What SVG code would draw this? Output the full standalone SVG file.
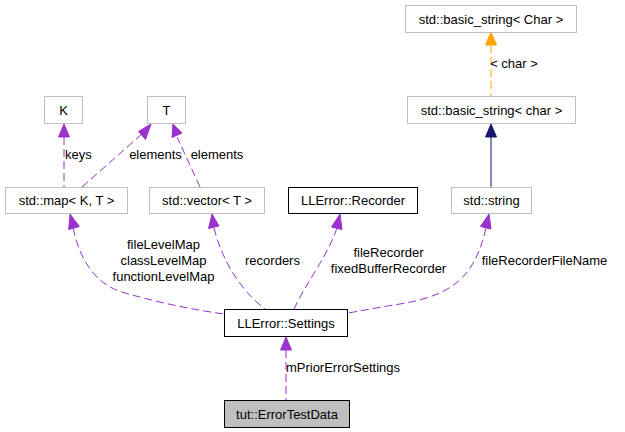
<svg xmlns="http://www.w3.org/2000/svg" width="625" height="432" viewBox="0 0 625 432">
<style>
text{font-family:"Liberation Sans",Arial,sans-serif;font-size:13px;fill:#000}
.n text{text-anchor:middle}
.g rect{fill:#fff;stroke:#bfbfbf;stroke-width:1}
.b rect{fill:#fff;stroke:#000;stroke-width:1}
.e path,.e line{fill:none;stroke:#9a32cd;stroke-dasharray:8,4}
.ph{fill:#9a32cd;stroke:#9a32cd}
.lbl{text-anchor:middle}
</style>
<rect width="625" height="432" fill="#fff"/>
<g id="edges">
<g class="e">
<line x1="286" y1="350" x2="286" y2="400"/>
<path d="M73,228 C80,260 95,285 125,293 C160,303 195,310 224,314"/>
<path d="M214,228 C222,260 240,290 265,309"/>
<path d="M337,228 C328,255 305,285 294,309"/>
<path d="M486,228 C475,275 455,295 400,304 C375,308 360,311 348,313"/>
<line x1="64" y1="137" x2="64" y2="187"/>
<line x1="82" y1="187" x2="142" y2="134"/>
<line x1="200" y1="187" x2="177" y2="137"/>
</g>
<polygon class="ph" points="286,337 280.5,350 291.5,350"/>
<polygon class="ph" points="70,214 68.7,229.5 79.3,226.5"/>
<polygon class="ph" points="212,214 208.5,228.5 219,226"/>
<polygon class="ph" points="340,214 331.5,227 342,229.5"/>
<polygon class="ph" points="489,214 480.5,226.5 491,229"/>
<polygon class="ph" points="64,124 58.5,137 69.5,137"/>
<polygon class="ph" points="151,124 138.5,131.5 145.5,139.5"/>
<polygon class="ph" points="173,124 172,137.5 182,133"/>
<line x1="491" y1="45" x2="491" y2="96" stroke="#ffa500" stroke-dasharray="8,4"/>
<polygon points="491,32 485.5,45 496.5,45" fill="#ffa500" stroke="#ffa500"/>
<line x1="491" y1="137" x2="491" y2="187" stroke="#191970"/>
<polygon points="491,124 485.5,137 496.5,137" fill="#191970" stroke="#191970"/>
<text x="65" y="159">keys</text>
<text class="lbl" x="155.5" y="159">elements</text>
<text class="lbl" x="217" y="159">elements</text>
<text class="lbl" x="514" y="68">&lt; char &gt;</text>
<text class="lbl" x="163.5" y="249">fileLevelMap</text>
<text class="lbl" x="163.5" y="265">classLevelMap</text>
<text class="lbl" x="163.5" y="281">functionLevelMap</text>
<text class="lbl" x="272.5" y="265">recorders</text>
<text class="lbl" x="388.5" y="257">fileRecorder</text>
<text class="lbl" x="388.5" y="273">fixedBufferRecorder</text>
<text class="lbl" x="544.5" y="265">fileRecorderFileName</text>
<text class="lbl" x="343" y="372">mPriorErrorSettings</text>
</g>
<g id="basic_string_Char" class="n g"><rect x="405.5" y="5.5" width="171" height="27"/><text x="491" y="23.5">std::basic_string&lt; Char &gt;</text></g>
<g id="basic_string_char" class="n g"><rect x="407.5" y="96.5" width="168" height="27"/><text x="491.5" y="114.5">std::basic_string&lt; char &gt;</text></g>
<g id="std_string" class="n g"><rect x="451.5" y="187.5" width="80" height="26"/><text x="491.5" y="205">std::string</text></g>
<g id="Recorder" class="n b"><rect x="288.5" y="187.5" width="129" height="26"/><text x="353" y="205">LLError::Recorder</text></g>
<g id="K" class="n g"><rect x="44.5" y="96.5" width="38" height="27"/><text x="63.5" y="114.5">K</text></g>
<g id="T" class="n g"><rect x="147.5" y="96.5" width="38" height="27"/><text x="166.5" y="114.5">T</text></g>
<g id="std_map" class="n g"><rect x="5.5" y="187.5" width="122" height="26"/><text x="66.5" y="205">std::map&lt; K, T &gt;</text></g>
<g id="std_vector" class="n g"><rect x="149.5" y="187.5" width="115" height="26"/><text x="207" y="205">std::vector&lt; T &gt;</text></g>
<g id="Settings" class="n b"><rect x="224.5" y="309.5" width="123" height="27"/><text x="286" y="327.5">LLError::Settings</text></g>
<g id="ErrorTestData" class="n"><rect x="224.5" y="400.5" width="125" height="27" fill="#bfbfbf" stroke="#000"/><text x="287" y="418.5">tut::ErrorTestData</text></g>
</svg>
